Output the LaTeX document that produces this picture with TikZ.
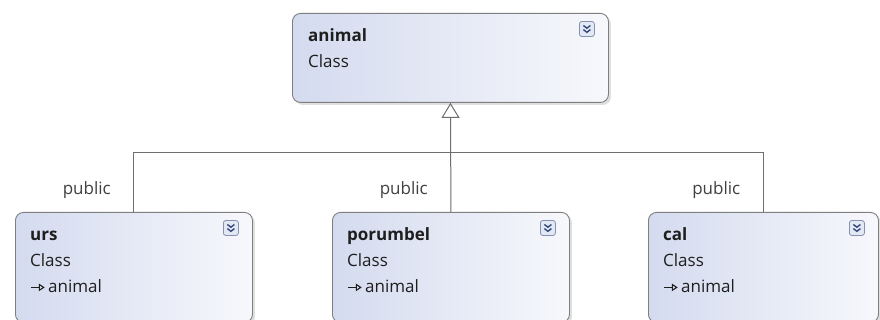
\documentclass[tikz,border=0pt]{standalone}
\usepackage{fontspec}
\setmainfont{Open Sans}
\usetikzlibrary{arrows.meta, shadows, positioning}

\definecolor{boxleft}{HTML}{D4DBEF}
\definecolor{boxright}{HTML}{F7F8FC}
\definecolor{boxline}{HTML}{7F7F7F}
\definecolor{wire}{HTML}{6E6E6E}
\definecolor{expfill}{HTML}{E2E8F4}
\definecolor{expline}{HTML}{8592AE}
\definecolor{expmark}{HTML}{34497A}
\definecolor{ink}{HTML}{1E1E1E}

\newsavebox{\inhbox}
\sbox{\inhbox}{\tikz[baseline=-5pt]\draw[ink, line width=1.1pt, -{Triangle[open,length=6pt,width=7.5pt]}] (0,0) -- (14pt,0);}

\tikzset{
  classbox/.style={draw=boxline, line width=0.9pt, rounded corners=8pt,
    left color=boxleft, right color=boxright, anchor=north west, inner sep=0pt,
    drop shadow={shadow xshift=2.5pt, shadow yshift=-2.5pt, opacity=0.25, fill=black!50}},
  classtext/.style={anchor=north west, inner sep=0pt, align=left, text=ink,
    font=\fontsize{17}{26}\selectfont},
  rolelabel/.style={anchor=base east, inner sep=0pt, text=ink!85,
    font=\fontsize{17}{20}\selectfont},
  inherits/.style={draw=wire, line width=1pt},
  expbox/.style={draw=expline, fill=expfill, rounded corners=2.5pt,
    minimum size=15pt, inner sep=0pt, line width=0.8pt},
  expander/.pic={
    \node[expbox] {};
    \draw[expmark, line width=1.4pt] (-3.5,3.5) -- (0,0.8) -- (3.5,3.5) (-3.5,-0.6) -- (0,-3.3) -- (3.5,-0.6);
  }
}

\begin{document}
\begin{tikzpicture}[x=1pt,y=1pt]
  \useasboundingbox (0,0) rectangle (880,320);
  \fill[white] (0,0) rectangle (880,320);
  % Classes
  \node[classbox, minimum width=316pt, minimum height=89pt] (animal) at (292,307) {};
  \node[classbox, minimum width=237pt, minimum height=110pt] (urs) at (15,108) {};
  \node[classbox, minimum width=237pt, minimum height=110pt] (porumbel) at (332,108) {};
  \node[classbox, minimum width=230pt, minimum height=110pt] (cal) at (648,108) {};
  % Class texts
  \node[classtext] at ([shift={(16,-10)}]animal.north west) {\strut\textbf{animal}\\Class};
  \node[classtext] at ([shift={(15,-10)}]urs.north west) {\strut\textbf{urs}\\Class\\\usebox{\inhbox}\,animal};
  \node[classtext] at ([shift={(15,-10)}]porumbel.north west) {\strut\textbf{porumbel}\\Class\\\usebox{\inhbox}\,animal};
  \node[classtext] at ([shift={(15,-10)}]cal.north west) {\strut\textbf{cal}\\Class\\\usebox{\inhbox}\,animal};
  % Expand buttons
  \pic at ([shift={(-22,-16)}]animal.north east) {expander};
  \pic at ([shift={(-22,-16)}]urs.north east) {expander};
  \pic at ([shift={(-22,-16)}]porumbel.north east) {expander};
  \pic at ([shift={(-22,-16)}]cal.north east) {expander};
  % Inheritance
  \coordinate (bus) at ([yshift=-50]animal.south);
  \draw[inherits] (urs.north) |- (bus) -| (cal.north);
  \draw[inherits, -{Triangle[open, length=15pt, width=18pt, fill=white]}] (porumbel.north) -- (animal.south);
  % Access labels
  \node[rolelabel] at ([shift={(-23,17)}]urs.north) {public};
  \node[rolelabel] at ([shift={(-23,17)}]porumbel.north) {public};
  \node[rolelabel] at ([shift={(-23,17)}]cal.north) {public};
\end{tikzpicture}
\end{document}
